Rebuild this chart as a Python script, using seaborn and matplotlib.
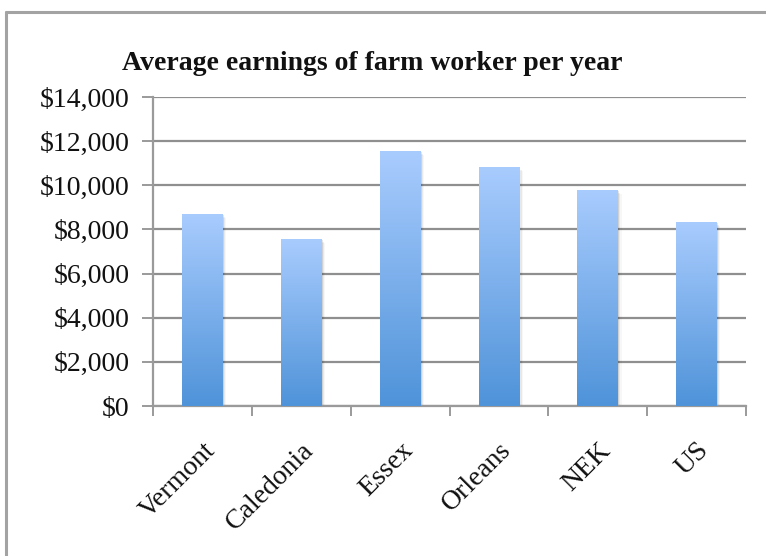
import numpy as np
import pandas as pd
import matplotlib
matplotlib.use("Agg")
import matplotlib.pyplot as plt
import seaborn as sns
from matplotlib.lines import Line2D
from matplotlib.colors import LinearSegmentedColormap
from matplotlib.ticker import FixedLocator, FuncFormatter

# Data
regions = ["Vermont", "Caledonia", "Essex", "Orleans", "NEK", "US"]
earnings = [8700, 7570, 11550, 10830, 9790, 8340]
y_ticks = [0, 2000, 4000, 6000, 8000, 10000, 12000, 14000]
title = "Average earnings of farm worker per year"

sns.set_theme(style="white")
plt.rcParams["font.family"] = ["Liberation Serif", "DejaVu Serif"]

fig = plt.figure(figsize=(7.66, 5.56), dpi=100)
W, H = 766, 556

# outer chart frame (extends past the right and bottom edges)
frame_kw = dict(color="#a3a3a3", lw=2.2, transform=fig.transFigure, zorder=0)
fig.add_artist(Line2D([5.5 / W, 5.5 / W], [0, 1 - 12 / H], **frame_kw))
fig.add_artist(Line2D([5.5 / W, 1.0], [1 - 12 / H, 1 - 12 / H], **frame_kw))

ax = fig.add_axes([153 / W, 1 - 406 / H, (746 - 153) / W, (406 - 97) / H])

df = pd.DataFrame({"region": regions, "earnings": earnings})
sns.barplot(data=df, x="region", y="earnings", ax=ax, width=0.41,
            color="#7fb0ea", saturation=1, zorder=3)

ax.set_xlim(-0.5, len(regions) - 0.5)
ax.set_ylim(0, 14000)

# vertical gradient fill for each bar
cmap = LinearSegmentedColormap.from_list("bar", ["#4f93d9", "#a9ccfe"])
grad = np.linspace(0, 1, 256).reshape(-1, 1)
for patch in ax.patches:
    x0, y0 = patch.get_x(), patch.get_y()
    w, h = patch.get_width(), patch.get_height()
    # soft drop shadow
    for k, a in enumerate([0.10, 0.06, 0.03]):
        off = 0.012 * (k + 1)
        sh = plt.Rectangle((x0 + off, y0), w, h - 60 * (k + 1),
                           facecolor="#000000", alpha=a, edgecolor="none", zorder=2)
        ax.add_patch(sh)
    im = ax.imshow(grad, cmap=cmap, origin="lower", aspect="auto",
                   extent=(x0, x0 + w, y0, y0 + h), zorder=3.5)
    im.set_clip_path(patch)
    patch.set_facecolor("none")
    patch.set_edgecolor("none")

ax.set_xlim(-0.5, len(regions) - 0.5)
ax.set_ylim(0, 14000)

# grid and spines
ax.set_axisbelow(True)
ax.yaxis.grid(True, color="#8f8f8f", lw=1.6)
ax.xaxis.grid(False)
for s in ["top", "right"]:
    ax.spines[s].set_visible(False)
for s in ["left", "bottom"]:
    ax.spines[s].set_color("#9a9a9a")
    ax.spines[s].set_linewidth(1.6)

ax.yaxis.set_major_locator(FixedLocator(y_ticks))
ax.yaxis.set_major_formatter(FuncFormatter(lambda v, p: f"${v:,.0f}"))
ax.tick_params(axis="y", which="major", direction="out", length=8, width=1.4,
               color="#9a9a9a", labelsize=20, pad=9, left=True, labelcolor="#111111")

# category labels at bar centres, tick marks at category boundaries
ax.set_xticks(range(len(regions)))
ax.set_xticklabels(regions, rotation=45, ha="right", rotation_mode="anchor",
                   fontsize=20, color="#111111")
ax.tick_params(axis="x", which="major", length=0, pad=23)
ax.set_xticks(np.arange(-0.5, len(regions), 1.0), minor=True)
ax.tick_params(axis="x", which="minor", direction="out", length=7, width=1.4,
               color="#9a9a9a", bottom=True)
ax.set_xlabel("")
ax.set_ylabel("")

fig.text(372 / W, 1 - 70 / H, title, ha="center", va="baseline",
         fontsize=20, fontweight="bold", color="#111111")

fig.savefig("out.png", dpi=100, facecolor="white")
